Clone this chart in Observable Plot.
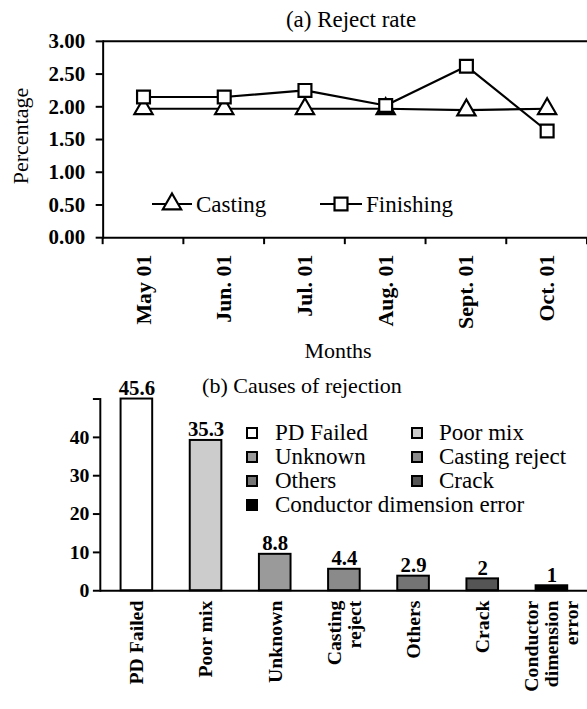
<!DOCTYPE html>
<html><head><meta charset="utf-8">
<script src="https://cdn.jsdelivr.net/npm/d3@7"></script>
<script src="https://cdn.jsdelivr.net/npm/@observablehq/plot@0.6"></script>
<style>
body{margin:0;background:#fff}
#root{position:relative;width:587px;height:709px;overflow:hidden;background:#fff}
#root > svg{position:absolute;left:0}
</style></head><body><div id="root"></div>
<script>
// ---- data: (a) reject rate ----
const months = ["May 01", "Jun. 01", "Jul. 01", "Aug. 01", "Sept. 01", "Oct. 01"];
const casting = [1.97, 1.97, 1.97, 1.97, 1.95, 1.97];
const finishing = [2.15, 2.15, 2.25, 2.02, 2.62, 1.63];
const yTicksA = [0, 0.5, 1, 1.5, 2, 2.5, 3];
const seriesNames = ["Casting", "Finishing"];

// ---- data: (b) causes of rejection ----
const causes = ["PD Failed", "Poor mix", "Unknown", "Casting reject", "Others", "Crack", "Conductor dimension error"];
const causeTickLabels = ["PD Failed", "Poor mix", "Unknown", "Casting\nreject", "Others", "Crack", "Conductor\ndimension\nerror"];
const barHeights = [50, 39.2, 9.5, 5.6, 3.8, 3.1, 1.3];
const barLabels = ["45.6", "35.3", "8.8", "4.4", "2.9", "2", "1"];
const causeColors = ["#ffffff", "#cccccc", "#9a9a9a", "#8a8a8a", "#747474", "#555555", "#000000"];
const yTicksB = [0, 10, 20, 30, 40, 50];

const FONT = '"Liberation Serif", "Times New Roman", serif';
const root = d3.select("#root");

function boundaryTicks(chart, y0, len) {
  const sx = chart.scale("x");
  const xs = sx.domain.map(d => sx.apply(d));
  xs.push(xs[xs.length - 1] + sx.step);
  d3.select(chart).append("g").attr("stroke", "black").attr("stroke-width", 2)
    .selectAll("line").data(xs).join("line")
    .attr("x1", d => d).attr("x2", d => d).attr("y1", y0).attr("y2", y0 + len);
}

// ---- chart (a) ----
const rowsA = [casting, finishing].flatMap((vals, s) => months.map((m, i) => ({month: m, value: vals[i], series: seriesNames[s]})));
const chartA = Plot.plot({
  width: 589, height: 372, marginLeft: 103, marginRight: 0, marginTop: 41, marginBottom: 134,
  style: {fontFamily: FONT, fontSize: "21px", background: "transparent", color: "black", overflow: "visible"},
  x: {type: "band", domain: months, padding: 0, label: null},
  y: {domain: [0, 3], label: null},
  marks: [
    Plot.axisY({ticks: yTicksA, tickFormat: d3.format(".2f"), tickSize: 7, tickPadding: 11, strokeWidth: 2, fontWeight: "bold", label: null}),
    Plot.axisX({tickSize: 0, tickPadding: 17, tickRotate: -90, fontWeight: "bold", fontSize: 22, label: null}),
    Plot.frame({anchor: "left", strokeWidth: 2}),
    Plot.ruleY([0, 3], {strokeWidth: 2}),
    Plot.line(rowsA, {x: "month", y: "value", z: "series", stroke: "black", strokeWidth: 2.2}),
    Plot.dot(rowsA.filter(d => d.series === "Casting"), {x: "month", y: "value", symbol: "triangle", r: 6.8, fill: "white", stroke: "black", strokeWidth: 2.2}),
    Plot.dot(rowsA.filter(d => d.series === "Finishing"), {x: "month", y: "value", symbol: "square", r: 7.3, fill: "white", stroke: "black", strokeWidth: 2.2})
  ]
});
boundaryTicks(chartA, 238, 7);
d3.select(chartA).style("top", "0px");
root.node().appendChild(chartA);

// ---- chart (b) ----
const rowsB = causes.map((c, i) => ({cause: c, value: barHeights[i], label: barLabels[i]}));
const chartB = Plot.plot({
  width: 594, height: 349, marginLeft: 101, marginRight: 0, marginTop: 39, marginBottom: 116,
  style: {fontFamily: FONT, fontSize: "20px", background: "transparent", color: "black", overflow: "visible"},
  x: {type: "band", domain: causes, padding: 0, label: null},
  y: {domain: [0, 50], label: null},
  color: {type: "ordinal", domain: causes, range: causeColors},
  marks: [
    Plot.barY(rowsB, {x: "cause", y: "value", fill: "cause", stroke: "black", strokeWidth: 2, insetLeft: 19, insetRight: 19}),
    Plot.text(rowsB, {x: "cause", y: "value", text: "label", dy: -4, lineAnchor: "bottom", fontWeight: "bold", fontSize: 21}),
    Plot.axisY({ticks: yTicksB, tickFormat: d => d === 50 ? "" : d, tickSize: 7, tickPadding: 4, strokeWidth: 2, fontWeight: "bold", label: null}),
    Plot.axisX({tickSize: 0, tickPadding: 10, tickRotate: -90, tickFormat: d => causeTickLabels[causes.indexOf(d)], fontWeight: "bold", label: null}),
    Plot.frame({anchor: "left", strokeWidth: 2}),
    Plot.ruleY([0], {strokeWidth: 2})
  ]
});
boundaryTicks(chartB, 593, 6);
d3.select(chartB).style("top", "360px");
root.node().appendChild(chartB);

// ---- overlay: titles and legends ----
const ov = root.append("svg").attr("width", 587).attr("height", 709).style("top", "0px")
  .attr("font-family", FONT).attr("font-size", 23);
ov.append("text").attr("x", 351).attr("y", 27).attr("text-anchor", "middle").text("(a) Reject rate");
ov.append("text").attr("transform", "translate(28,136) rotate(-90)").attr("text-anchor", "middle").attr("font-size", 22).text("Percentage");
ov.append("text").attr("x", 338).attr("y", 358).attr("text-anchor", "middle").attr("font-size", 22).text("Months");
ov.append("text").attr("x", 302).attr("y", 393).attr("text-anchor", "middle").attr("font-size", 22).text("(b) Causes of rejection");

// legend (a)
const legA = [
  {name: seriesNames[0], x1: 152, x2: 192, cx: 172, sym: d3.symbolTriangle, r: 6.8},
  {name: seriesNames[1], x1: 320, x2: 362, cx: 341, sym: d3.symbolSquare, r: 7.3}
];
legA.forEach(l => {
  ov.append("line").attr("x1", l.x1).attr("x2", l.x2).attr("y1", 204).attr("y2", 204).attr("stroke", "black").attr("stroke-width", 2.2);
  ov.append("path").attr("transform", `translate(${l.cx},204)`).attr("d", d3.symbol(l.sym, Math.PI * l.r * l.r)())
    .attr("fill", "white").attr("stroke", "black").attr("stroke-width", 2.2);
  ov.append("text").attr("x", l.x2 + 4).attr("y", 212).text(l.name);
});

// legend (b)
causes.forEach((c, i) => {
  const col = i % 2, row = Math.floor(i / 2);
  const sx = col ? 412 : 247, tx = col ? 439 : 275, by = 440 + row * 24;
  ov.append("rect").attr("x", sx).attr("y", by - 12).attr("width", 10).attr("height", 10)
    .attr("fill", causeColors[i]).attr("stroke", "black").attr("stroke-width", 2);
  ov.append("text").attr("x", tx).attr("y", by).text(c);
});
</script>
</body></html>
